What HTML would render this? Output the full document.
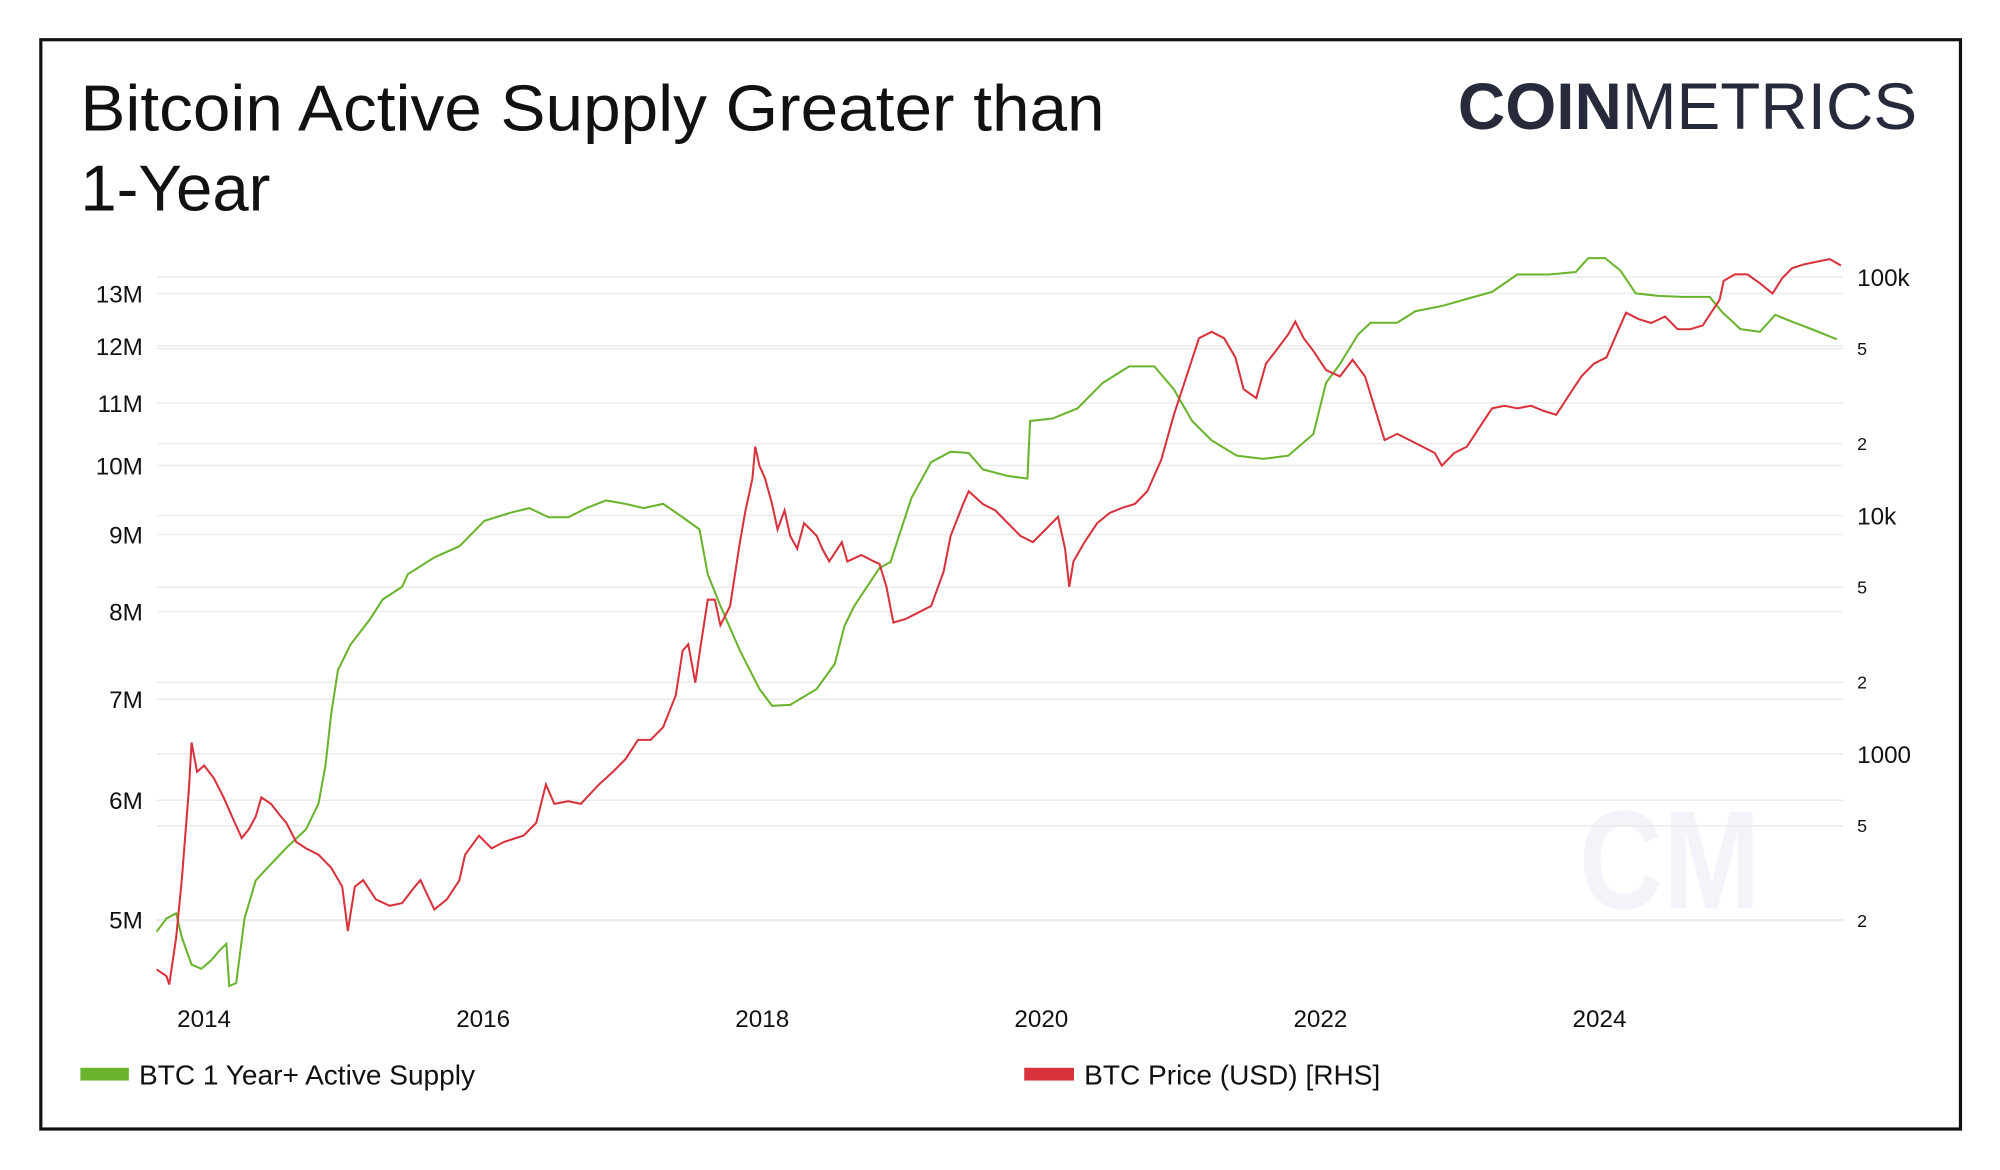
<!DOCTYPE html>
<html><head><meta charset="utf-8"><style>
html,body{margin:0;padding:0;background:#fff;}
svg{display:block;font-family:"Liberation Sans",sans-serif;}
</style></head><body>
<svg id="chart" width="2000" height="1170" viewBox="0 0 1568 917">
<rect x="32" y="31" width="1505" height="854" fill="#fff" stroke="#111" stroke-width="2.5"/>
<text x="63" y="102" font-size="51" fill="#111" textLength="803" lengthAdjust="spacingAndGlyphs">Bitcoin Active Supply Greater than</text>
<text x="63" y="165" font-size="51" fill="#111" textLength="149" lengthAdjust="spacingAndGlyphs">1-Year</text>
<text x="1143" y="101" font-size="52" fill="#262a3a" textLength="360" lengthAdjust="spacingAndGlyphs"><tspan font-weight="bold">COIN</tspan><tspan font-weight="normal">METRICS</tspan></text>
<text x="1238" y="712" font-size="110" fill="#f3f4f9" font-weight="bold" textLength="142" lengthAdjust="spacingAndGlyphs">CM</text>
<g id="grid"></g>
<g id="laxis"></g>
<g id="raxis"></g>
<g id="xaxis"></g>
<path id="greenLine" fill="none" stroke="#6ab42d" stroke-width="1.6"/>
<path id="redLine" fill="none" stroke="#d8323c" stroke-width="1.6"/>
<rect x="63" y="837" width="38" height="10" fill="#6ab42d"/>
<text x="109" y="850" font-size="22" fill="#111">BTC 1 Year+ Active Supply</text>
<rect x="803" y="837" width="39" height="10" fill="#d8323c"/>
<text x="850" y="850" font-size="22" fill="#111">BTC Price (USD) [RHS]</text>
</svg>
<script>
const leftTicks=[13,12,11,10,9,8,7,6,5];
const leftTickLabels=["13M","12M","11M","10M","9M","8M","7M","6M","5M"];
const rightTicks=[100000,50000,20000,10000,5000,2000,1000,500,200];
const rightTickLabels=["100k","5","2","10k","5","2","1000","5","2"];
const xTicks=[2014,2016,2018,2020,2022,2024];
const supplyYears=[2013.66,2013.73,2013.80,2013.84,2013.91,2013.98,2014.05,2014.11,2014.16,2014.18,2014.23,2014.29,2014.37,2014.46,2014.59,2014.73,2014.82,2014.87,2014.91,2014.96,2015.05,2015.19,2015.28,2015.42,2015.46,2015.65,2015.83,2016.01,2016.19,2016.33,2016.47,2016.61,2016.74,2016.88,2017.02,2017.15,2017.29,2017.43,2017.55,2017.61,2017.70,2017.84,2017.98,2018.07,2018.20,2018.39,2018.52,2018.59,2018.66,2018.84,2018.92,2018.98,2019.07,2019.21,2019.35,2019.48,2019.58,2019.76,2019.90,2019.92,2020.08,2020.26,2020.44,2020.63,2020.81,2020.95,2021.08,2021.22,2021.40,2021.59,2021.77,2021.95,2022.04,2022.14,2022.27,2022.36,2022.55,2022.68,2022.87,2023.05,2023.23,2023.41,2023.64,2023.83,2023.92,2024.04,2024.15,2024.26,2024.42,2024.60,2024.79,2024.88,2025.01,2025.15,2025.26,2025.38,2025.52,2025.70];
const supplyValues=[4.91,5.01,5.05,4.87,4.67,4.64,4.70,4.77,4.82,4.52,4.54,5.01,5.31,5.42,5.58,5.74,5.97,6.33,6.84,7.32,7.61,7.91,8.15,8.31,8.47,8.69,8.84,9.19,9.30,9.37,9.24,9.24,9.37,9.48,9.43,9.37,9.43,9.24,9.07,8.47,8.07,7.54,7.11,6.93,6.94,7.11,7.39,7.83,8.07,8.55,8.63,8.98,9.52,10.05,10.21,10.19,9.94,9.84,9.80,10.70,10.74,10.91,11.34,11.63,11.63,11.23,10.70,10.39,10.15,10.10,10.15,10.49,11.34,11.67,12.21,12.43,12.43,12.65,12.75,12.89,13.03,13.38,13.38,13.43,13.72,13.72,13.46,13.00,12.95,12.93,12.93,12.63,12.31,12.26,12.58,12.45,12.31,12.12];
const priceYears=[2013.66,2013.73,2013.75,2013.80,2013.84,2013.89,2013.91,2013.95,2014.00,2014.07,2014.14,2014.20,2014.27,2014.32,2014.37,2014.41,2014.48,2014.55,2014.59,2014.66,2014.73,2014.82,2014.91,2014.99,2015.03,2015.08,2015.14,2015.23,2015.33,2015.42,2015.51,2015.55,2015.65,2015.74,2015.83,2015.87,2015.97,2016.06,2016.15,2016.29,2016.38,2016.45,2016.51,2016.61,2016.70,2016.83,2016.93,2017.02,2017.11,2017.20,2017.29,2017.38,2017.43,2017.47,2017.52,2017.56,2017.61,2017.66,2017.70,2017.77,2017.84,2017.88,2017.93,2017.95,2017.98,2018.02,2018.07,2018.11,2018.16,2018.20,2018.25,2018.30,2018.39,2018.43,2018.48,2018.57,2018.61,2018.71,2018.80,2018.84,2018.89,2018.94,2019.03,2019.12,2019.21,2019.30,2019.35,2019.44,2019.48,2019.58,2019.67,2019.76,2019.85,2019.94,2020.03,2020.12,2020.17,2020.20,2020.23,2020.31,2020.40,2020.49,2020.58,2020.67,2020.76,2020.86,2020.95,2021.04,2021.13,2021.22,2021.31,2021.39,2021.45,2021.54,2021.61,2021.68,2021.77,2021.82,2021.88,2021.95,2022.04,2022.14,2022.23,2022.32,2022.39,2022.46,2022.55,2022.64,2022.73,2022.82,2022.87,2022.96,2023.05,2023.14,2023.23,2023.32,2023.41,2023.51,2023.60,2023.69,2023.78,2023.87,2023.96,2024.05,2024.13,2024.19,2024.28,2024.37,2024.47,2024.56,2024.65,2024.74,2024.80,2024.86,2024.89,2024.97,2025.06,2025.15,2025.24,2025.31,2025.38,2025.47,2025.56,2025.65,2025.73];
const priceValues=[125,117,108,170,296,700,1117,842,895,791,658,547,444,483,547,658,618,547,514,428,402,378,334,278,181,278,296,246,231,237,278,296,223,246,296,378,455,402,428,455,514,745,618,634,618,745,842,952,1146,1146,1295,1762,2712,2884,1992,2884,4436,4436,3467,4171,7727,10500,14290,19450,16170,14290,11170,8730,10500,8210,7260,9290,8210,7260,6420,7727,6420,6830,6420,6270,5020,3555,3690,3925,4171,5820,8210,11170,12640,11170,10500,9290,8210,7727,8730,9880,7260,5020,6420,7727,9290,10250,10770,11170,12640,17180,26430,38280,55350,58880,55350,46030,33830,31060,43290,48950,57450,65010,55350,48950,40720,38280,44900,38280,28130,20700,21990,20700,19450,18280,16170,18280,19450,23390,28130,28840,28130,28840,27450,26430,31830,38280,43290,46030,58880,70800,66630,64150,68230,60390,60390,62660,70800,80140,96420,102500,102500,93980,85180,98850,108900,113100,115900,118800,111700];

const NS="http://www.w3.org/2000/svg";
const X0=123,X1=1445;
function xScale(yr){return 160+109.4*(yr-2014);}
function yLeft(m){return 721-514*Math.log(m/5);}
function yRight(p){return 404-187*Math.log10(p/10000);}
function mk(tag,attrs,parent){const e=document.createElementNS(NS,tag);for(const k in attrs)e.setAttribute(k,attrs[k]);parent.appendChild(e);return e;}
const grid=document.getElementById('grid'),la=document.getElementById('laxis'),ra=document.getElementById('raxis'),xa=document.getElementById('xaxis');
leftTicks.forEach((v,i)=>{const y=yLeft(v);
 const l=mk('line',{x1:X0,x2:X1,y1:y,y2:y,stroke:'#ececec','stroke-width':1.2},grid);
 
 
 const t=mk('text',{x:112,y:y+7,'font-size':19,'text-anchor':'end',fill:'#111'},la);t.textContent=leftTickLabels[i];
 
 
});
rightTicks.forEach((v,i)=>{const y=yRight(v);
 const l=mk('line',{x1:X0,x2:X1,y1:y,y2:y,stroke:'#ececec','stroke-width':1.2},grid);
 
 
 const big=rightTickLabels[i].length>1;
 const t=mk('text',{x:1456,y:y+(big?7:5),'font-size':big?19:14,fill:'#111'},ra);t.textContent=rightTickLabels[i];
 
 
});
xTicks.forEach(v=>{const t=mk('text',{x:xScale(v),y:805,'font-size':19,'text-anchor':'middle',fill:'#111'},xa);t.textContent=v;
 
 
});
function path(xs,ys,fy){return xs.map((x,i)=>(i?'L':'M')+xScale(x).toFixed(1)+','+fy(ys[i]).toFixed(1)).join('');}
document.getElementById('greenLine').setAttribute('d',path(supplyYears,supplyValues,yLeft));
document.getElementById('redLine').setAttribute('d',path(priceYears,priceValues,yRight));
</script>
</body></html>
